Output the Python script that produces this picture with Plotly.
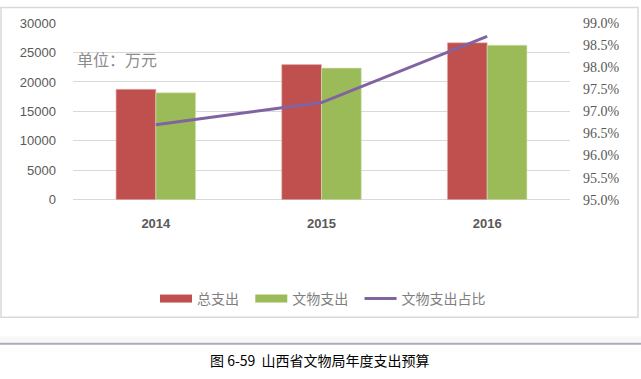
import plotly.graph_objects as go

years = ["2014", "2015", "2016"]
total_spend = [18750, 22950, 26650]
relic_spend = [18150, 22350, 26250]
relic_ratio = [0.9670, 0.9720, 0.9870]
legend_names = ["总支出", "文物支出", "文物支出占比"]

RED = "#c0504d"
GREEN = "#9bbb59"
PURPLE = "#8064a2"
TICK = "#595959"
GRID = "#d9d9d9"

W, H = 641, 379
def py(p):
    return 1 - p / H
def px(p):
    return p / W

NB = "\u00a0"
fig = go.Figure()
fig.add_trace(go.Bar(x=years, y=total_spend, name=legend_names[0], marker=dict(color=RED, line=dict(color="#e8b0ae", width=0.6)),
                     showlegend=False, yaxis="y"))
fig.add_trace(go.Bar(x=years, y=relic_spend, name=legend_names[1], marker=dict(color=GREEN, line=dict(color="#d5e4b8", width=0.6)),
                     showlegend=False, yaxis="y"))
fig.add_trace(go.Scatter(x=years, y=relic_ratio, name=legend_names[2], mode="lines",
                         line=dict(color=PURPLE, width=3), yaxis="y2", showlegend=False))
# legend entries
fig.add_trace(go.Scatter(x=[None], y=[None], mode="lines", name=legend_names[0] + NB * 2, line=dict(color=RED, width=8)))
fig.add_trace(go.Scatter(x=[None], y=[None], mode="lines", name=legend_names[1] + NB * 2, line=dict(color=GREEN, width=8)))
fig.add_trace(go.Scatter(x=[None], y=[None], mode="lines", name=legend_names[2], line=dict(color=PURPLE, width=3)))

fig.update_layout(
    width=W, height=H,
    margin=dict(l=0, r=0, t=0, b=0),
    paper_bgcolor="white", plot_bgcolor="white",
    barmode="group", bargap=0.52, bargroupgap=0,
    font=dict(family="Liberation Sans, Arial, sans-serif", color=TICK),
    xaxis=dict(domain=[px(73), px(570)], type="category", showgrid=False, showline=False,
               zeroline=False, ticks="", tickfont=dict(size=13, color=TICK, family="Liberation Sans"),
               ticklabelstandoff=14, anchor="y",
               tickvals=years, ticktext=["<b>%s</b>" % y for y in years]),
    yaxis=dict(domain=[py(200.7), py(16.7)], range=[0, 30000], dtick=5000, showgrid=True,
               gridcolor=GRID, gridwidth=1, zeroline=True, zerolinecolor=GRID, zerolinewidth=1,
               showline=False, ticks="", tickfont=dict(size=13, color=TICK), ticklabelstandoff=16,
               tickformat="d"),
    yaxis2=dict(overlaying="y", side="right", range=[0.95, 0.99], dtick=0.005, tickformat=".1%",
                showgrid=False, zeroline=False, showline=False, ticks="",
                tickfont=dict(size=14, color=TICK, family="Liberation Serif, serif"), ticklabelstandoff=12),
    legend=dict(orientation="h", x=px(323), xanchor="center", y=py(304), yanchor="middle",
                font=dict(size=14, color="#7f7f7f", family="Noto Sans CJK SC"), itemwidth=32,
                bgcolor="rgba(0,0,0,0)", tracegroupgap=0),
    shapes=[
        dict(type="rect", xref="paper", yref="paper", x0=px(1), x1=px(638), y0=py(323), y1=py(0.5),
             line=dict(color=GRID, width=1.5), fillcolor="rgba(0,0,0,0)", layer="below"),
        dict(type="rect", xref="paper", yref="paper", x0=0, x1=1, y0=py(349.5), y1=py(343),
             line=dict(width=0), fillcolor="#f7f7f7", layer="below"),
        dict(type="line", xref="paper", yref="paper", x0=0, x1=1, y0=py(350.5), y1=py(350.5),
             line=dict(color="#aeaabd", width=2)),
    ],
    annotations=[
        dict(text="单位：万元", xref="paper", yref="paper", x=px(75), y=py(54), xanchor="left",
             yanchor="middle", showarrow=False, font=dict(size=16, color="#8c8c8c", family="Noto Sans CJK SC")),
        dict(text="图 6-59  山西省文物局年度支出预算", xref="paper", yref="paper", x=px(320), y=py(368),
             xanchor="center", yanchor="middle", showarrow=False,
             font=dict(size=14, color="#000000", family="Noto Sans CJK SC")),
    ],
)

fig.write_html("out.html", config={"displayModeBar": False},
               post_script="document.body.style.margin='0';document.body.style.overflow='hidden';")
